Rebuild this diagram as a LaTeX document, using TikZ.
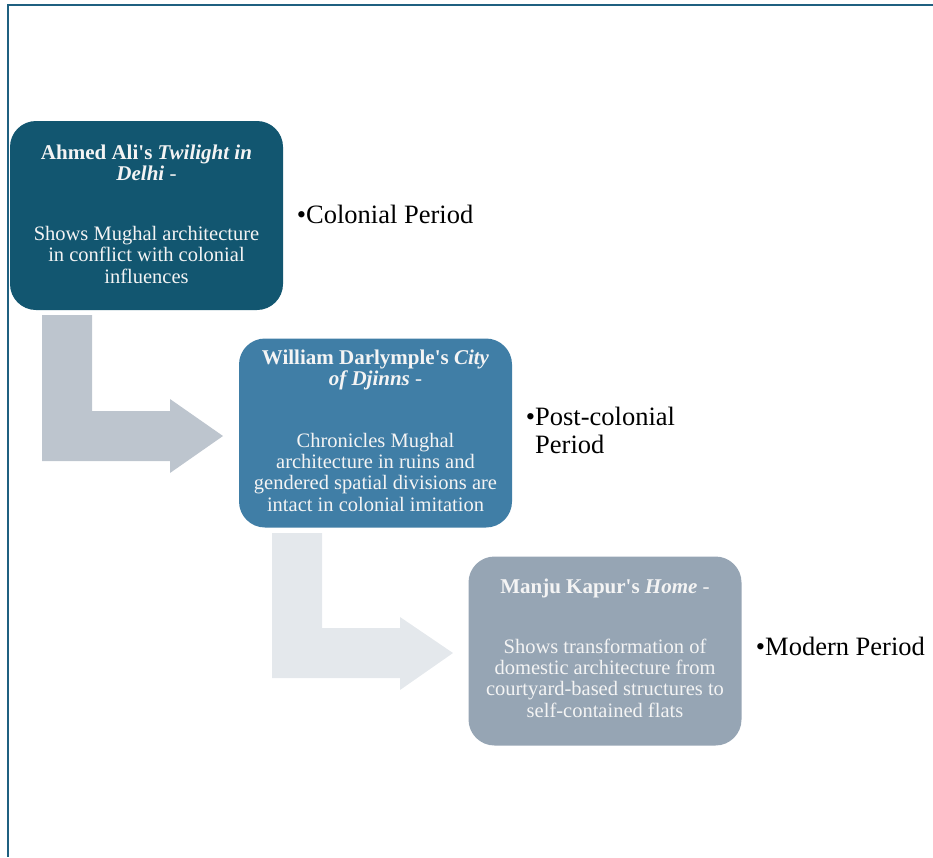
\documentclass[tikz,border=0pt]{standalone}
\usepackage{fontspec}
\setmainfont{Liberation Serif}

\definecolor{framec}{RGB}{31,96,128}
\definecolor{boxA}{RGB}{18,86,112}
\definecolor{boxB}{RGB}{64,126,166}
\definecolor{boxC}{RGB}{150,165,180}
\definecolor{arrA}{RGB}{189,197,206}
\definecolor{arrB}{RGB}{228,232,236}
\definecolor{boxtext}{RGB}{244,244,244}

\begin{document}
\begin{tikzpicture}[x=1pt,y=-1pt,
  stagebox/.style={rounded corners=26pt, minimum width=273pt, minimum height=189pt,
    inner sep=0pt, draw=none},
  % multi-line nodes: anchor=base sits on the baseline of the last line
  boxtitle/.style={text=boxtext, align=center, anchor=base, inner sep=0pt,
    font=\fontsize{21}{21}\selectfont\bfseries},
  boxbody/.style={text=boxtext, align=center, anchor=base, inner sep=0pt,
    font=\fontsize{20.5}{21.3}\selectfont},
  period/.style={anchor=base west, align=left, inner sep=0pt,
    font=\fontsize{26.5}{28}\selectfont}]
\useasboundingbox (0,0) rectangle (933,857);

% outer frame (only its top and left edges fall on the page)
\draw[framec, line width=2pt] (933,5) -- (8,5) -- (8,857);

% bent arrows leading from one stage to the next
\fill[arrA] (42,315) -- (92,315) -- (92,411) -- (170,411) -- (170,399)
  -- (223,436) -- (170,473) -- (170,461) -- (42,461) -- cycle;
\fill[arrB] (272,533) -- (322,533) -- (322,628) -- (400,628) -- (400,617)
  -- (453,653) -- (400,690) -- (400,678) -- (272,678) -- cycle;

% stage boxes
\node[stagebox, fill=boxA] (b1) at (146.5,215.5) {};
\node[stagebox, fill=boxB] (b2) at (375.5,433) {};
\node[stagebox, fill=boxC] (b3) at (605,651) {};

% box texts
\node[boxtitle] (t1) at (146.5,180)
  {Ahmed Ali\textquotesingle s \textit{Twilight in}\\\textit{Delhi} \mdseries-};
\node[boxbody] (d1) at (146.5,283)
  {Shows Mughal architecture\\in conflict with colonial\\influences};

\node[boxtitle] (t2) at (375.5,385)
  {William Darlymple\textquotesingle s \textit{City}\\\textit{of Djinns} \mdseries-};
\node[boxbody] (d2) at (375.5,511)
  {Chronicles Mughal\\architecture in ruins and\\gendered spatial divisions are\\intact in colonial imitation};

\node[boxtitle] (t3) at (605,593)
  {Manju Kapur\textquotesingle s \textit{Home} \mdseries-};
\node[boxbody] (d3) at (605,717)
  {Shows transformation of\\domestic architecture from\\courtyard-based structures to\\self-contained flats};

% period labels
\node[period] (p1) at (306,223) {\llap{\textbullet}Colonial Period};
\node[period] (p2) at (535,453) {\llap{\textbullet}Post-colonial\\Period};
\node[period] (p3) at (765,655) {\llap{\textbullet}Modern Period};
\end{tikzpicture}
\end{document}
